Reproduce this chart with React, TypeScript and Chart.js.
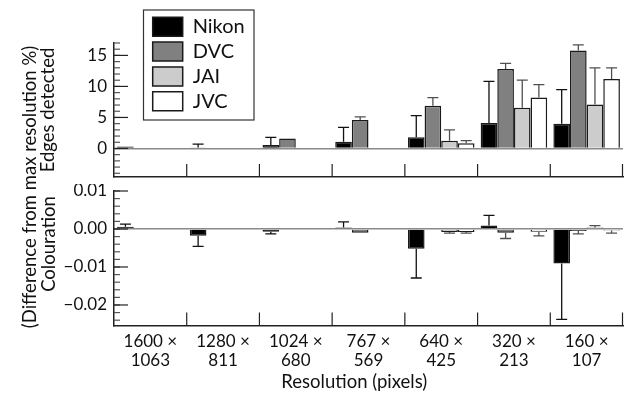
import React, { useEffect, useRef } from 'react';
import { Chart, registerables } from 'chart.js';

Chart.register(...registerables);

const FONT = 'Lato, "DejaVu Sans", sans-serif';

// ---- data ----
const categories = [
  ['1600 ×', '1063'],
  ['1280 ×', '811'],
  ['1024 ×', '680'],
  ['767 ×', '569'],
  ['640 ×', '425'],
  ['320 ×', '213'],
  ['160 ×', '107'],
];
const seriesNames = ['Nikon', 'DVC', 'JAI', 'JVC'];
const seriesColors = ['#000000', '#808080', '#cccccc', '#ffffff'];
const errorColors = ['#111111', '#505050', '#505050', '#505050'];

// Edges detected (top panel)
const edgesNikon = [0.3, 0.15, 0.55, 1.1, 1.8, 4.1, 4.0];
const edgesNikonErr = [null, 0.7, 1.8, 3.4, 5.3, 10.8, 9.5];
const edgesDVC = [null, null, 1.6, 4.6, 6.9, 12.8, 15.8];
const edgesDVCErr = [null, null, null, 5.1, 8.2, 13.7, 16.7];
const edgesJAI = [null, null, null, null, 1.25, 6.55, 7.1];
const edgesJAIErr = [null, null, null, null, 3.0, 11.0, 13.0];
const edgesJVC = [null, null, null, null, 0.85, 8.2, 11.2];
const edgesJVCErr = [null, null, null, null, 1.25, 10.3, 13.0];

// Colouration (bottom panel)
const colourNikon = [0.0006, -0.0018, -0.0007, 0.0004, -0.0052, 0.0009, -0.0091];
const colourNikonErr = [0.0013, -0.0046, -0.0013, 0.0019, -0.0129, 0.0036, -0.0238];
const colourDVC = [null, null, null, -0.001, null, -0.001, -0.0005];
const colourDVCErr = [null, null, null, null, null, -0.0025, -0.0013];
const colourJAI = [null, null, null, null, -0.0008, null, 0.0004];
const colourJAIErr = [null, null, null, null, -0.0011, null, 0.0009];
const colourJVC = [null, null, null, null, -0.0008, -0.0007, -0.0004];
const colourJVCErr = [null, null, null, null, -0.0011, -0.0018, -0.0011];

const edgesTicks = [0, 5, 10, 15];
const colourTicks = [-0.02, -0.01, 0, 0.01];
const edgesRange = [-4.6, 17];
const colourRange = [-0.0254, 0.01];

// minor tick positions (axis decoration)
const edgesMinor: number[] = [];
for (let v = -4; v <= 17; v += 1) edgesMinor.push(v);
const colourMinor: number[] = [];
for (let k = -12; k <= 5; k += 1) colourMinor.push(k * 0.002);

const makeDatasets = (vals: any[][], errs: any[][]) =>
  vals.map((v, i) => ({
    label: seriesNames[i],
    data: v,
    errors: errs[i],
    errorColor: errorColors[i],
    backgroundColor: seriesColors[i],
    borderColor: '#1a1a1a',
    borderWidth: 1.5,
    categoryPercentage: 0.915,
    barPercentage: 1,
  }));

const decoPlugin = {
  id: 'deco',
  beforeDraw(chart: any, _a: any, opts: any) {
    const lp = opts.legendPos;
    const lg = chart.legend;
    if (lp && lg) {
      lg.left = lp.x;
      lg.top = lp.y;
      lg.right = lp.x + lp.w;
      lg.bottom = lp.y + lp.h;
      lg.width = lp.w;
      lg.height = lp.h;
    }
  },
  afterDatasetsDraw(chart: any) {
    const ctx = chart.ctx;
    chart.data.datasets.forEach((ds: any, i: number) => {
      const meta = chart.getDatasetMeta(i);
      const ys = chart.scales[meta.yAxisID];
      meta.data.forEach((el: any, j: number) => {
        const e = ds.errors ? ds.errors[j] : null;
        if (e == null || ds.data[j] == null) return;
        const y1 = ys.getPixelForValue(e);
        ctx.save();
        ctx.strokeStyle = ds.errorColor;
        ctx.lineWidth = 1.3;
        ctx.beginPath();
        ctx.moveTo(el.x, el.y);
        ctx.lineTo(el.x, y1);
        ctx.moveTo(el.x - 5.5, y1);
        ctx.lineTo(el.x + 5.5, y1);
        ctx.stroke();
        ctx.restore();
      });
    });
  },
  afterDraw(chart: any, _a: any, opts: any) {
    const ctx = chart.ctx;
    const area = chart.chartArea;
    const y = chart.scales.y;
    const x = chart.scales.x;
    ctx.save();
    ctx.lineWidth = 1.2;
    ctx.strokeStyle = '#555';
    (opts.minor || []).forEach((v: number) => {
      const p = y.getPixelForValue(v);
      ctx.beginPath();
      ctx.moveTo(area.left, p);
      ctx.lineTo(area.left + 6, p);
      ctx.stroke();
    });
    ctx.strokeStyle = '#222';
    y.ticks.forEach((t: any) => {
      const p = y.getPixelForValue(t.value);
      ctx.beginPath();
      ctx.moveTo(area.left, p);
      ctx.lineTo(area.left + 14, p);
      ctx.stroke();
    });
    const n = x.ticks.length;
    for (let i = 1; i <= n; i++) {
      const px = i === n ? area.right - 0.5 : (x.getPixelForTick(i - 1) + x.getPixelForTick(i)) / 2;
      ctx.beginPath();
      ctx.moveTo(px, area.bottom);
      ctx.lineTo(px, area.bottom - 13);
      ctx.stroke();
    }
    const lf = opts.legendFrame;
    if (lf) {
      ctx.strokeStyle = '#333';
      ctx.lineWidth = 1.2;
      ctx.strokeRect(lf.x, lf.y, lf.w, lf.h);
    }
    ctx.restore();
  },
};

const tickFont = { family: FONT, size: 17 };
const titleFont = { family: FONT, size: 18.5 };

function makeYScale(range: number[], ticks: number[], fmt: (v: number) => string, title: any) {
  return {
    type: 'linear',
    position: 'left',
    min: range[0],
    max: range[1],
    afterBuildTicks: (s: any) => {
      s.ticks = ticks.map((v) => ({ value: v }));
    },
    afterFit: (s: any) => {
      s.width = 114;
      s.paddingTop = 0;
      s.paddingBottom = 0;
    },
    ticks: {
      font: tickFont,
      color: '#111',
      padding: 7,
      callback: (v: any) => fmt(Number(v)),
    },
    grid: {
      drawTicks: false,
      drawOnChartArea: true,
      color: (c: any) => (c.tick && Math.abs(c.tick.value) < 1e-12 ? '#8a8a8a' : 'rgba(0,0,0,0)'),
      lineWidth: 1.5,
    },
    border: { display: true, color: '#222', width: 1.5 },
    title,
  };
}

export default function App() {
  const topRef = useRef<HTMLCanvasElement>(null);
  const botRef = useRef<HTMLCanvasElement>(null);

  useEffect(() => {
    const top = new Chart(topRef.current as HTMLCanvasElement, {
      type: 'bar',
      data: {
        labels: categories as any,
        datasets: makeDatasets(
          [edgesNikon, edgesDVC, edgesJAI, edgesJVC],
          [edgesNikonErr, edgesDVCErr, edgesJAIErr, edgesJVCErr]
        ) as any,
      },
      plugins: [decoPlugin],
      options: {
        responsive: false,
        animation: false,
        events: [],
        layout: { padding: { top: 43, right: 6, bottom: 8, left: 0 } },
        scales: {
          x: {
            type: 'category',
            ticks: { display: false },
            grid: { display: false, drawTicks: false },
            border: { display: true, color: '#222', width: 1.5 },
            afterFit: (s: any) => {
              s.height = 0;
              s.paddingLeft = 0;
              s.paddingRight = 0;
            },
          },
          y: makeYScale(edgesRange, edgesTicks, (v) => String(v), {
            display: true,
            text: 'Edges detected',
            font: titleFont,
            color: '#111',
            padding: { top: 36.9, bottom: 0 },
          }),
        } as any,
        plugins: {
          legend: {
            display: true,
            position: 'chartArea',
            align: 'start',
            labels: {
              boxWidth: 30,
              boxHeight: 19,
              padding: 4.8,
              color: '#111',
              font: { family: FONT, size: 20 },
            },
          },
          tooltip: { enabled: false },
          deco: {
            minor: edgesMinor,
            legendPos: { x: 147.9, y: 12, w: 105, h: 107 },
            legendFrame: { x: 143.5, y: 10, w: 110.5, h: 110 },
          },
        } as any,
      },
    });

    const bottom = new Chart(botRef.current as HTMLCanvasElement, {
      type: 'bar',
      data: {
        labels: categories as any,
        datasets: makeDatasets(
          [colourNikon, colourDVC, colourJAI, colourJVC],
          [colourNikonErr, colourDVCErr, colourJAIErr, colourJVCErr]
        ) as any,
      },
      plugins: [decoPlugin],
      options: {
        responsive: false,
        animation: false,
        events: [],
        layout: { padding: { top: 7, right: 6, bottom: 0, left: 0 } },
        scales: {
          x: {
            type: 'category',
            ticks: {
              font: { family: FONT, size: 17, lineHeight: 1.1 },
              color: '#111',
              padding: 6.6,
              autoSkip: false,
              maxRotation: 0,
            },
            grid: { display: false, drawTicks: false },
            border: { display: true, color: '#222', width: 1.5 },
            title: {
              display: true,
              text: 'Resolution (pixels)      ',
              font: titleFont,
              color: '#111',
              padding: { top: 0, bottom: 6.5 },
            },
            afterFit: (s: any) => {
              s.height = 74.5;
              s.paddingLeft = 0;
              s.paddingRight = 0;
            },
          },
          y: makeYScale(
            colourRange,
            colourTicks,
            (v) => (v < -1e-9 ? '\u2212' + Math.abs(v).toFixed(2) : Math.abs(v).toFixed(2)),
            { display: false }
          ),
        } as any,
        plugins: {
          legend: { display: false },
          tooltip: { enabled: false },
          deco: { minor: colourMinor },
        } as any,
      },
    });

    return () => {
      top.destroy();
      bottom.destroy();
    };
  }, []);

  const rot = (cx: number, cy: number): React.CSSProperties => ({
    position: 'absolute',
    left: cx,
    top: cy,
    transform: 'translate(-50%, -50%) rotate(-90deg)',
    whiteSpace: 'nowrap',
    font: `18.5px ${FONT}`,
    lineHeight: '22px',
    color: '#111',
  });

  return (
    <div style={{ position: 'fixed', left: 0, top: 0, width: 629, height: 400, background: '#fff', overflow: 'hidden' }}>
      <canvas ref={topRef} width={629} height={185} style={{ position: 'absolute', left: 0, top: 0 }} />
      <canvas ref={botRef} width={629} height={216} style={{ position: 'absolute', left: 0, top: 184 }} />
      <div style={rot(29, 187)}>(Difference from max resolution %)</div>
      <div style={rot(48, 244)}>Colouration</div>
    </div>
  );
}
